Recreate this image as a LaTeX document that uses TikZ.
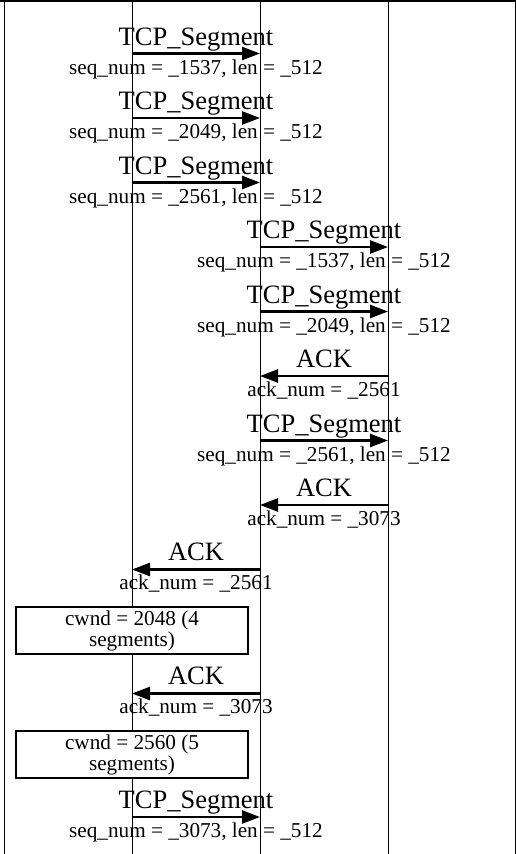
\documentclass[tikz,border=0pt]{standalone}
\usepackage{fontspec}
\setmainfont{Liberation Serif}
\usetikzlibrary{arrows.meta}
\tikzset{
  lifeline/.style={line width=1pt},
  frame/.style={line width=2.2pt},
  msg/.style={line width=2.5pt,-{Triangle[length=18pt,width=13pt]}},
  msgname/.style={anchor=base,inner sep=0pt,font=\fontsize{26.5}{30}\selectfont},
  msglabel/.style={anchor=base,inner sep=0pt,font=\fontsize{21.2}{24}\selectfont},
  notebox/.style={draw,line width=2.5pt,minimum width=232pt,minimum height=47pt,inner sep=0pt,align=center,font=\fontsize{21.2}{21}\selectfont}
}
\begin{document}
\begin{tikzpicture}[x=1pt,y=-1pt]
\useasboundingbox (0,0) rectangle (516,854);
% lifelines
\coordinate (Lt) at (4,0);   \coordinate (Lb) at (4,854);
\coordinate (At) at (132,0); \coordinate (Ab) at (132,854);
\coordinate (Bt) at (260,0); \coordinate (Bb) at (260,854);
\coordinate (Ct) at (388,0); \coordinate (Cb) at (388,854);
\coordinate (Rt) at (515.3,0); \coordinate (Rb) at (515.3,854);
\draw[lifeline] (Lt) -- (Lb);
\draw[lifeline] (At) -- (Ab);
\draw[lifeline] (Bt) -- (Bb);
\draw[lifeline] (Ct) -- (Cb);
\draw[lifeline] (Rt) -- (Rb);
\coordinate (T0) at (0,1); \coordinate (T1) at (516,1);
\draw[frame] (T0) -- (T1);
% messages A->B
\foreach \i/\y/\s in {1/53.5/1537, 2/118/2049, 3/182.5/2561, 13/817/3073}{
  \coordinate (m\i s) at (132,\y);
  \coordinate (m\i e) at (260,\y);
  \draw[msg] (m\i s) -- (m\i e);
  \node[msgname] (n\i) at (196,\y-8.5) {TCP\_Segment};
  \node[msglabel] (l\i) at (196,\y+20.5) {seq\_num = \_\s, len = \_512};
}
% messages B->C
\foreach \i/\y/\s in {4/247/1537, 5/311.5/2049, 7/440.5/2561}{
  \coordinate (m\i s) at (260,\y);
  \coordinate (m\i e) at (388,\y);
  \draw[msg] (m\i s) -- (m\i e);
  \node[msgname] (n\i) at (324,\y-8.5) {TCP\_Segment};
  \node[msglabel] (l\i) at (324,\y+20.5) {seq\_num = \_\s, len = \_512};
}
% ACKs C->B
\foreach \i/\y/\s in {6/376/2561, 8/505/3073}{
  \coordinate (m\i s) at (388,\y);
  \coordinate (m\i e) at (260,\y);
  \draw[msg] (m\i s) -- (m\i e);
  \node[msgname] (n\i) at (324,\y-9) {ACK};
  \node[msglabel] (l\i) at (324,\y+20) {ack\_num = \_\s};
}
% ACKs B->A
\foreach \i/\y/\s in {9/569.5/2561, 11/693.5/3073}{
  \coordinate (m\i s) at (260,\y);
  \coordinate (m\i e) at (132,\y);
  \draw[msg] (m\i s) -- (m\i e);
  \node[msgname] (n\i) at (196,\y-9) {ACK};
  \node[msglabel] (l\i) at (196,\y+20) {ack\_num = \_\s};
}
% notes
\node[notebox,fill=white] (box1) at (132,630.5) {cwnd = 2048 (4\\segments)};
\node[notebox,fill=white] (box2) at (132,754.5) {cwnd = 2560 (5\\segments)};
\end{tikzpicture}
\end{document}
